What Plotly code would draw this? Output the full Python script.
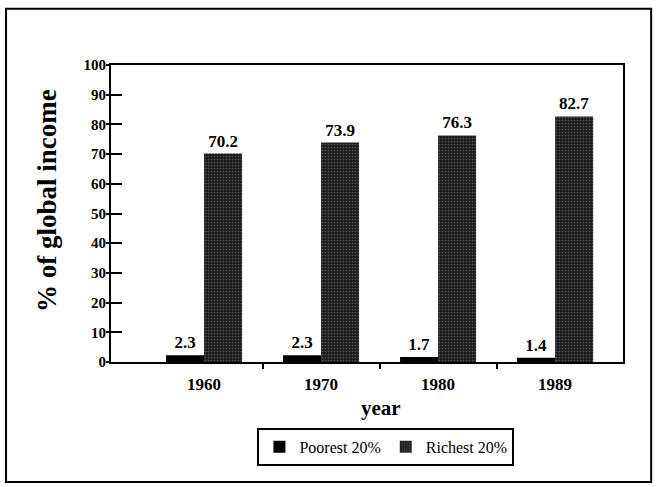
import plotly.graph_objects as go

years = ["1960", "1970", "1980", "1989"]
poorest = [2.3, 2.3, 1.7, 1.4]
richest = [70.2, 73.9, 76.3, 82.7]
series_names = ["Poorest 20%", "Richest 20%"]
y_ticks = [0, 10, 20, 30, 40, 50, 60, 70, 80, 90, 100]
x_title = "year"
y_title = "% of global income"

SERIF = "Liberation Serif"

fig = go.Figure()
fig.add_trace(go.Bar(
    x=years, y=poorest, name=series_names[0],
    marker=dict(color="#000000", line=dict(width=0)),
    text=[f"<b>{v}</b>" for v in poorest], textposition="outside",
    textfont=dict(family=SERIF, size=17, color="black"), cliponaxis=False,
))
fig.add_trace(go.Bar(
    x=years, y=richest, name=series_names[1],
    marker=dict(color="#2a2a2a", line=dict(width=0),
                pattern=dict(shape=".", fgcolor="#8a8a8a", bgcolor="#1c1c1c",
                             size=3, solidity=0.25)),
    text=[f"<b>{v}</b>" for v in richest], textposition="outside",
    textfont=dict(family=SERIF, size=17, color="black"), cliponaxis=False,
))
fig.add_trace(go.Scatter(x=[None], y=[None], xaxis="x2", yaxis="y2", showlegend=False, hoverinfo="skip"))

xr = [-0.795, 3.58]
fig.update_layout(
    width=657, height=487,
    margin=dict(l=111, r=34, t=65, b=125),
    paper_bgcolor="white", plot_bgcolor="white",
    barmode="group", bargap=0.35, bargroupgap=0,
    font=dict(family=SERIF, color="black"),
    xaxis=dict(type="category", range=xr, showline=True, linecolor="black", linewidth=2,
               mirror=True, ticks="", showgrid=False, zeroline=False,
               ticklabelstandoff=6,
               tickfont=dict(family=SERIF, size=17, weight="bold")),
    yaxis=dict(range=[0, 100], tickvals=y_ticks, showline=True, linecolor="black", linewidth=2,
               mirror=True, ticks="inside", ticklen=11, tickwidth=2, tickcolor="black",
               showgrid=False, zeroline=False,
               tickfont=dict(family=SERIF, size=15, weight="bold")),
    xaxis2=dict(overlaying="x", anchor="y", range=xr, tickvals=[0.5, 1.5, 2.5],
                ticks="outside", ticklen=6, tickwidth=2, tickcolor="black",
                showticklabels=False, showgrid=False, zeroline=False, showline=False),
    yaxis2=dict(overlaying="y", anchor="x", range=[0, 100], tickvals=y_ticks,
                ticks="outside", ticklen=4, tickwidth=2, tickcolor="black",
                showticklabels=False, showgrid=False, zeroline=False, showline=False),
    legend=dict(orientation="h", x=0.537, y=-0.286, xanchor="center", yanchor="middle",
                bordercolor="black", borderwidth=2, bgcolor="white",
                font=dict(family=SERIF, size=16), itemwidth=30, tracegroupgap=0),
    annotations=[
        dict(text=f"<b>{x_title}</b>", xref="paper", yref="paper", x=0.527, y=-0.155,
             xanchor="center", yanchor="middle", showarrow=False,
             font=dict(family=SERIF, size=21, color="black")),
        dict(text=f"<b>{y_title}</b>", xref="paper", yref="paper", x=-0.125, y=0.542,
             xanchor="center", yanchor="middle", showarrow=False, textangle=-90,
             font=dict(family=SERIF, size=27, color="black")),
    ],
    shapes=[dict(type="rect", xref="paper", yref="paper",
                 x0=-0.205, x1=1.055, y0=-0.404, y1=1.189,
                 line=dict(color="black", width=2), fillcolor="rgba(0,0,0,0)", layer="below")],
)

fig.write_html("out.html", config={"displayModeBar": False},
               post_script="document.body.style.margin='0';document.body.style.overflow='hidden';")
